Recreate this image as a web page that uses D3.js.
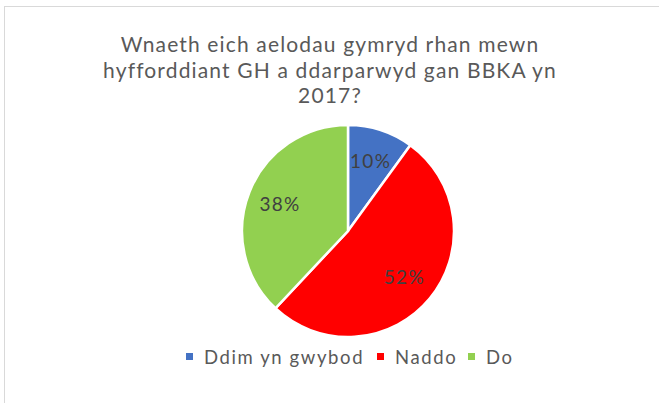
<!DOCTYPE html>
<html>
<head>
<meta charset="utf-8">
<script src="https://cdn.jsdelivr.net/npm/d3@7"></script>
<style>
  body { margin: 0; background: #fff; }
  svg { font-family: Lato, 'Open Sans', sans-serif; }
</style>
</head>
<body>
<div id="chart"></div>
<script>
var categories = ['Ddim yn gwybod', 'Naddo', 'Do']
var values = [10, 52, 38]
var colors = ['#4472C4', '#FF0000', '#92D050']
var titleLines = ['Wnaeth eich aelodau gymryd rhan mewn', 'hyfforddiant GH a ddarparwyd gan BBKA yn', '2017?']

var cfg = {
  WIDTH: 659,
  HEIGHT: 403,
  cx: 348,
  cy: 231,
  radius: 106
}

var svg = d3.select('#chart').append('svg')
  .attr('width', cfg.WIDTH)
  .attr('height', cfg.HEIGHT)

// chart border
svg.append('rect')
  .attr('x', 4.5)
  .attr('y', 6.5)
  .attr('width', cfg.WIDTH)
  .attr('height', cfg.HEIGHT)
  .attr('fill', '#fff')
  .attr('stroke', '#d9d9d9')

// title
svg.append('text')
  .attr('text-anchor', 'middle')
  .attr('fill', '#595959')
  .style('font-size', '21px')
  .style('letter-spacing', '1.15px')
  .selectAll('tspan')
  .data(titleLines)
  .enter()
  .append('tspan')
  .attr('x', 330)
  .attr('y', function(d, i) { return 52 + i * 25.5 })
  .text(function(d) { return d })

var pie = d3.pie().sort(null).value(function(d) { return d })
var arc = d3.arc().innerRadius(0).outerRadius(cfg.radius)
var labelArc = d3.arc().innerRadius(cfg.radius * 0.69).outerRadius(cfg.radius * 0.69)

var pieG = svg.append('g')
  .attr('transform', 'translate(' + cfg.cx + ',' + cfg.cy + ')')

var slices = pie(values)

pieG.selectAll('path')
  .data(slices)
  .enter()
  .append('path')
  .attr('d', arc)
  .attr('fill', function(d, i) { return colors[i] })
  .attr('stroke', '#fff')
  .attr('stroke-width', 2.5)

pieG.selectAll('text')
  .data(slices)
  .enter()
  .append('text')
  .attr('transform', function(d) { return 'translate(' + labelArc.centroid(d) + ')' })
  .attr('text-anchor', 'middle')
  .attr('dy', '0.36em')
  .attr('fill', '#404040')
  .style('font-size', '19px')
  .style('letter-spacing', '1.3px')
  .text(function(d) { return d.value + '%' })

// legend
var legendX = [186, 377, 468]
var legend = svg.selectAll('g.legend')
  .data(categories)
  .enter()
  .append('g')
  .attr('class', 'legend')
  .attr('transform', function(d, i) { return 'translate(' + legendX[i] + ',357)' })

legend.append('rect')
  .attr('x', 0)
  .attr('y', -4)
  .attr('width', 7)
  .attr('height', 7)
  .attr('fill', function(d, i) { return colors[i] })

legend.append('text')
  .attr('x', 18)
  .attr('dy', '0.36em')
  .attr('fill', '#595959')
  .style('font-size', '18.5px')
  .style('letter-spacing', '1.6px')
  .text(function(d) { return d })
</script>
</body>
</html>
